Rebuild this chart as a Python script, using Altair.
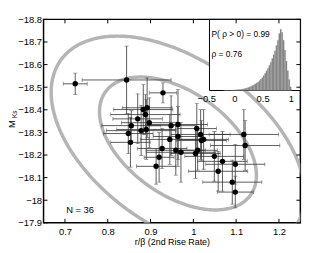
import numpy as np
import pandas as pd
import altair as alt

# ---------------- data ----------------
x_val = [0.724, 0.844, 0.929, 0.883, 0.892, 0.888, 0.897, 0.855, 0.848, 0.878,
         0.890, 0.853, 0.948, 0.964, 0.945, 0.964, 1.008, 1.017, 1.024, 0.927,
         0.959, 0.971, 1.005, 1.010, 1.049, 1.068, 1.098, 1.058, 1.091, 1.098,
         1.118, 1.121, 0.920, 0.913, 1.019, 0.870]
y_val = [-18.515, -18.532, -18.475, -18.401, -18.409, -18.379, -18.343, -18.330, -18.295, -18.308,
         -18.313, -18.256, -18.330, -18.335, -18.269, -18.282, -18.317, -18.291, -18.269, -18.229,
         -18.221, -18.212, -18.207, -18.221, -18.194, -18.172, -18.159, -18.128, -18.080, -18.036,
         -18.291, -18.242, -18.190, -18.150, -18.264, -18.360]
x_err = [0.028, 0.104, 0.032, 0.069, 0.058, 0.081, 0.065, 0.069, 0.058, 0.081,
         0.069, 0.046, 0.058, 0.069, 0.069, 0.058, 0.046, 0.069, 0.058, 0.058,
         0.069, 0.081, 0.058, 0.046, 0.069, 0.058, 0.069, 0.069, 0.069, 0.042,
         0.081, 0.081, 0.035, 0.046, 0.058, 0.058]
y_err = [0.047, 0.150, 0.044, 0.110, 0.132, 0.088, 0.110, 0.066, 0.088, 0.110,
         0.132, 0.110, 0.132, 0.154, 0.110, 0.132, 0.110, 0.110, 0.132, 0.088,
         0.110, 0.132, 0.110, 0.088, 0.110, 0.132, 0.088, 0.088, 0.097, 0.070,
         0.110, 0.110, 0.110, 0.079, 0.088, 0.110]

# confidence ellipses (centre, sigmas, correlation, contour levels)
ell_center = [0.964, -18.251]
ell_sigma = [0.121, 0.194]
ell_rho = 0.477
ell_levels = [1.515, 2.448]

# inset posterior histogram of rho (bin width 0.025 starting at -0.2)
rho_start = -0.2
rho_width = 0.025
rho_heights = [0.002, 0.002, 0.003, 0.004, 0.005, 0.006, 0.007, 0.009,
               0.010, 0.012, 0.014, 0.016, 0.019, 0.023, 0.028, 0.034,
               0.042, 0.050, 0.058, 0.068, 0.080, 0.094, 0.108, 0.124,
               0.140, 0.160, 0.183, 0.210, 0.245, 0.282, 0.320, 0.362,
               0.410, 0.462, 0.520, 0.583, 0.650, 0.735, 0.820, 0.930,
               1.000, 0.950, 0.820, 0.660, 0.480, 0.320, 0.180, 0.060]

x_ticks = [0.7, 0.8, 0.9, 1.0, 1.1, 1.2]
y_ticks = [-18.8, -18.7, -18.6, -18.5, -18.4, -18.3, -18.2, -18.1, -18.0, -17.9]
inset_tick_vals = [-0.5, 0.0, 0.5, 1.0]
inset_tick_labels = ["\u22120.5", "0", "0.5", "1"]
n_label = "N = 36"
p_label = "P( \u03c1  > 0) = 0.99"
r_label = "\u03c1 = 0.76"

W, H = 260, 206
FONT = "Liberation Sans"
LBL = 9.5

# ---------------- frames ----------------
pts = pd.DataFrame({"x": x_val, "y": y_val, "xe": x_err, "ye": y_err})
pts["xlo"] = pts.x - pts.xe
pts["xhi"] = pts.x + pts.xe
pts["ylo"] = pts.y - pts.ye
pts["yhi"] = pts.y + pts.ye

t = np.linspace(0, 2 * np.pi, 361)
cov = np.array([[ell_sigma[0] ** 2, ell_rho * ell_sigma[0] * ell_sigma[1]],
                [ell_rho * ell_sigma[0] * ell_sigma[1], ell_sigma[1] ** 2]])
Lc = np.linalg.cholesky(cov)
rows = []
for j, k in enumerate(ell_levels):
    xy = k * (Lc @ np.vstack([np.cos(t), np.sin(t)]))
    for i in range(len(t)):
        rows.append({"e": j, "o": i, "x": ell_center[0] + xy[0, i], "y": ell_center[1] + xy[1, i]})
ell = pd.DataFrame(rows)

hist = pd.DataFrame({
    "b0": [round(rho_start + i * rho_width, 4) for i in range(len(rho_heights))],
    "h": rho_heights,
})
hist["b1"] = hist.b0 + rho_width

xs = alt.Scale(domain=[0.65, 1.25], nice=False, zero=False)
ys = alt.Scale(domain=[-18.8, -17.9], nice=False, zero=False, reverse=True)
xaxis = alt.Axis(values=x_ticks, format="~g", ticks=False, domain=False, grid=False,
                 labelPadding=4, labelFontSize=LBL, title="r/\u03b2   (2nd Rise Rate)",
                 titleFontSize=9, titleFontWeight="normal", titlePadding=1)
yaxis = alt.Axis(values=y_ticks, format="~g", ticks=False, domain=False, grid=False,
                 labelPadding=2, labelFontSize=LBL, title=None)


def X(f):
    return alt.X(f, type="quantitative", scale=xs, axis=xaxis)


def Y(f):
    return alt.Y(f, type="quantitative", scale=ys, axis=yaxis)


ellipses = alt.Chart(ell).mark_line(color="#b5b5b5", strokeWidth=3.5, clip=True).encode(
    x=X("x"), y=Y("y"), detail="e:N", order="o:Q")

BAR = "#333333"
hbar = alt.Chart(pts).mark_rule(color=BAR, strokeWidth=0.8, clip=True).encode(
    x=X("xlo"), x2="xhi", y=Y("y"))
vbar = alt.Chart(pts).mark_rule(color=BAR, strokeWidth=0.8, clip=True).encode(
    x=X("x"), y=Y("ylo"), y2="yhi")
capc = "#555555"
cap_l = alt.Chart(pts).mark_tick(color=capc, orient="vertical", size=4, thickness=0.8, clip=True).encode(
    x=X("xlo"), y=Y("y"))
cap_r = alt.Chart(pts).mark_tick(color=capc, orient="vertical", size=4, thickness=0.8, clip=True).encode(
    x=X("xhi"), y=Y("y"))
cap_b = alt.Chart(pts).mark_tick(color=capc, orient="horizontal", size=4, thickness=0.8, clip=True).encode(
    x=X("x"), y=Y("ylo"))
cap_t = alt.Chart(pts).mark_tick(color=capc, orient="horizontal", size=4, thickness=0.8, clip=True).encode(
    x=X("x"), y=Y("yhi"))
dots = alt.Chart(pts).mark_circle(color="black", size=30, opacity=1).encode(x=X("x"), y=Y("y"))

ntext = alt.Chart(pd.DataFrame({"t": [n_label]})).mark_text(
    font=FONT, fontSize=LBL, align="center", baseline="middle", color="black").encode(
    text="t:N", x=alt.value(37), y=alt.value(193))
mtext = alt.Chart(pd.DataFrame({"t": ["M"]})).mark_text(
    font=FONT, fontSize=9.5, angle=270, align="center", baseline="middle", color="black").encode(
    text="t:N", x=alt.value(-32), y=alt.value(106))
kstext = alt.Chart(pd.DataFrame({"t": ["Ks"]})).mark_text(
    font=FONT, fontSize=6.5, angle=270, align="center", baseline="middle", color="black").encode(
    text="t:N", x=alt.value(-29), y=alt.value(96))

main = alt.layer(ellipses, hbar, vbar, cap_l, cap_r, cap_b, cap_t, dots, ntext, mtext, kstext)

# ---------------- inset ----------------
ixs = alt.Scale(domain=[-0.45, 1.16], range=[168, 260], nice=False, zero=False)
iys = alt.Scale(domain=[0, 1.16], range=[72, 0], nice=False, zero=False)


def IX(f):
    return alt.X(f, type="quantitative", scale=ixs, axis=None)


def IY(f):
    return alt.Y(f, type="quantitative", scale=iys, axis=None)


frame = pd.DataFrame({"x0": [-0.45], "x1": [1.16], "y0": [0.0], "y1": [1.16]})
ibg = alt.Chart(frame).mark_rect(fill="white", stroke="black", strokeWidth=1).encode(
    x=IX("x0"), x2="x1", y=IY("y0"), y2="y1")
ibars = alt.Chart(hist).mark_rect(fill="#848484", stroke="#9a9a9a", strokeWidth=0.2).encode(
    x=IX("b0"), x2="b1", y=IY("h"), y2=alt.datum(0))
itick = pd.DataFrame({"v": inset_tick_vals, "l": inset_tick_labels})
ilabels = alt.Chart(itick).mark_text(font=FONT, fontSize=LBL, baseline="middle", align="center",
                                     color="black").encode(x=IX("v"), text="l:N", y=alt.value(81))
ptext = alt.Chart(pd.DataFrame({"t": [p_label]})).mark_text(
    font=FONT, fontSize=8.5, align="left", baseline="middle", color="black").encode(
    text="t:N", x=alt.value(170), y=alt.value(15))
rtext = alt.Chart(pd.DataFrame({"t": [r_label]})).mark_text(
    font=FONT, fontSize=8.5, align="left", baseline="middle", color="black").encode(
    text="t:N", x=alt.value(170), y=alt.value(35))

inset = alt.layer(ibg, ibars, ilabels, ptext, rtext)

# ---------------- inward ticks ----------------
txs = alt.Scale(domain=[0.65, 1.25], nice=False, zero=False)
tys = alt.Scale(domain=[-18.8, -17.9], nice=False, zero=False, reverse=True)
xt = pd.DataFrame({"v": x_ticks})
yt = pd.DataFrame({"v": y_ticks})
tk = dict(color="black", strokeWidth=1)
t_top = alt.Chart(xt).mark_rule(**tk).encode(
    x=alt.X("v:Q", scale=txs, axis=None), y=alt.value(0), y2=alt.value(4))
t_bot = alt.Chart(xt).mark_rule(**tk).encode(
    x=alt.X("v:Q", scale=txs, axis=None), y=alt.value(H), y2=alt.value(H - 4))
t_left = alt.Chart(yt).mark_rule(**tk).encode(
    y=alt.Y("v:Q", scale=tys, axis=None), x=alt.value(0), x2=alt.value(4))
t_right = alt.Chart(yt).mark_rule(**tk).encode(
    y=alt.Y("v:Q", scale=tys, axis=None), x=alt.value(W), x2=alt.value(W - 4))
ticks = alt.layer(t_top, t_bot, t_left, t_right)

chart = alt.layer(main, inset, ticks).resolve_scale(x="independent", y="independent").properties(
    width=W, height=H,
    autosize=alt.AutoSizeParams(type="none"),
    padding={"left": 36, "top": 10, "right": 28, "bottom": 27},
).configure_view(stroke="black", strokeWidth=1.5).configure_axis(
    labelFont=FONT, titleFont=FONT, labelColor="black", titleColor="black"
).configure_text(font=FONT)

chart.save("out.html", embed_options={"renderer": "svg", "actions": False})
